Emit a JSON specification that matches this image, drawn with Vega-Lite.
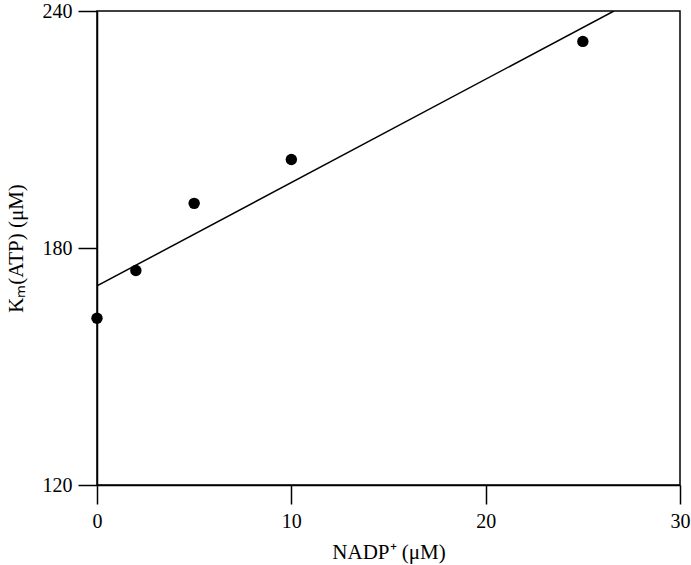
{
  "$schema": "https://vega.github.io/schema/vega-lite/v6.json",
  "width": 583,
  "height": 474,
  "autosize": "none",
  "padding": {"left": 97, "top": 11, "right": 11, "bottom": 80},
  "background": "white",
  "config": {
    "view": {"stroke": "black", "strokeWidth": 1.5},
    "font": "Liberation Serif",
    "axis": {
      "labelFont": "Liberation Serif",
      "titleFont": "Liberation Serif",
      "labelFontSize": 20,
      "titleFontSize": 21,
      "titleFontWeight": "normal",
      "labelColor": "black",
      "titleColor": "black",
      "domainColor": "black",
      "tickColor": "black",
      "domainWidth": 1.5,
      "tickWidth": 1.5,
      "tickSize": 19,
      "grid": false,
      "labelFlush": false,
      "labelOverlap": false
    }
  },
  "datasets": {
    "points": [
      {"nadp": 0, "km": 162.2},
      {"nadp": 2, "km": 174.3},
      {"nadp": 5, "km": 191.3},
      {"nadp": 10, "km": 202.4},
      {"nadp": 25, "km": 232.3}
    ],
    "fit": [
      {"nadp": 0, "km": 170.4},
      {"nadp": 26.6, "km": 240}
    ]
  },
  "layer": [
    {
      "data": {"name": "fit"},
      "mark": {"type": "line", "color": "black", "strokeWidth": 1.5, "clip": true},
      "encoding": {
        "x": {
          "field": "nadp", "type": "quantitative",
          "scale": {"domain": [0, 30], "nice": false, "zero": false},
          "axis": {"values": [0, 10, 20, 30], "title": "NADP⁺ (μM)", "labelPadding": 7, "titlePadding": 10}
        },
        "y": {
          "field": "km", "type": "quantitative",
          "scale": {"domain": [120, 240], "nice": false, "zero": false},
          "axis": {"values": [120, 180, 240], "title": "Kₘ(ATP) (μM)", "labelPadding": 6, "titlePadding": 16}
        }
      }
    },
    {
      "data": {"name": "points"},
      "mark": {"type": "circle", "color": "black", "opacity": 1, "size": 130},
      "encoding": {
        "x": {"field": "nadp", "type": "quantitative"},
        "y": {"field": "km", "type": "quantitative"}
      }
    }
  ]
}
